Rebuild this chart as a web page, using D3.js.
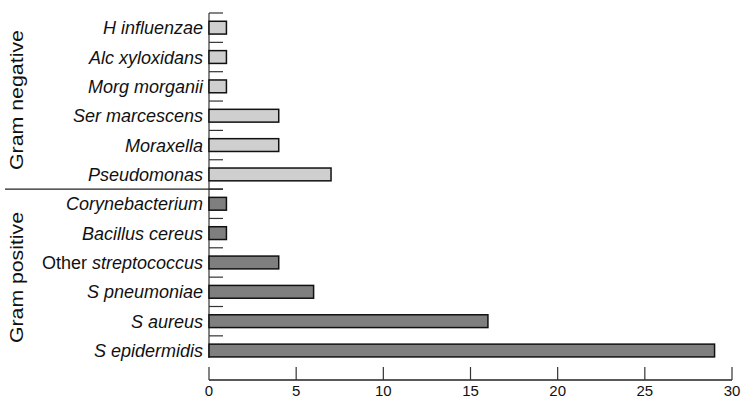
<!DOCTYPE html>
<html>
<head>
<meta charset="utf-8">
<script src="https://cdn.jsdelivr.net/npm/d3@7"></script>
<style>
  body { margin: 0; background: #fff; }
  svg { display: block; font-family: "Liberation Sans", Arial, sans-serif; }
</style>
</head>
<body>
<svg width="743" height="400"></svg>
<script>
// organisms, top to bottom
var organisms = ["H influenzae", "Alc xyloxidans", "Morg morganii", "Ser marcescens", "Moraxella", "Pseudomonas",
    "Corynebacterium", "Bacillus cereus", "Other streptococcus", "S pneumoniae", "S aureus", "S epidermidis"];
var counts = [1, 1, 1, 4, 4, 7, 1, 1, 4, 6, 16, 29];
var gramGroup = ["neg", "neg", "neg", "neg", "neg", "neg", "pos", "pos", "pos", "pos", "pos", "pos"];
var groupNames = ["Gram negative", "Gram positive"];
var xTicks = [0, 5, 10, 15, 20, 25, 30];

var svg = d3.select('svg');

var scaleX = d3.scaleLinear().domain([0, 30]).range([209, 732]);
var scaleY = d3.scaleBand().domain(organisms).range([13, 365.2]).paddingInner(0).paddingOuter(0);

var barH = 12.8;

// x axis, ticks pointing up
svg.append('line')
    .attr('x1', scaleX(0)).attr('x2', scaleX(30))
    .attr('y1', 380).attr('y2', 380)
    .attr('stroke', '#222').attr('stroke-width', 1.3);

svg.selectAll('.xtick')
    .data(xTicks)
    .enter()
    .append('line')
    .attr('class', 'xtick')
    .attr('x1', function(d) { return scaleX(d); })
    .attr('x2', function(d) { return scaleX(d); })
    .attr('y1', 367).attr('y2', 380)
    .attr('stroke', '#333').attr('stroke-width', 1.2);

svg.selectAll('.xlabel')
    .data(xTicks)
    .enter()
    .append('text')
    .attr('class', 'xlabel')
    .attr('x', function(d) { return scaleX(d); })
    .attr('y', 396)
    .style('text-anchor', 'middle')
    .attr('font-size', 15)
    .attr('fill', '#111')
    .text(function(d) { return d; });

// y axis line and separator ticks
svg.append('line')
    .attr('x1', scaleX(0)).attr('x2', scaleX(0))
    .attr('y1', 13).attr('y2', 358)
    .attr('stroke', '#333').attr('stroke-width', 1.2);

svg.selectAll('.ytick')
    .data(organisms)
    .enter()
    .append('line')
    .attr('class', 'ytick')
    .attr('x1', scaleX(0)).attr('x2', scaleX(0) + 14)
    .attr('y1', function(d) { return scaleY(d); })
    .attr('y2', function(d) { return scaleY(d); })
    .attr('stroke', '#333').attr('stroke-width', 1.2);

// divider between the two groups
svg.append('line')
    .attr('x1', 5).attr('x2', scaleX(0) + 14)
    .attr('y1', scaleY(organisms[6])).attr('y2', scaleY(organisms[6]))
    .attr('stroke', '#222').attr('stroke-width', 1.2);

// bars
svg.selectAll('.bar')
    .data(organisms)
    .enter()
    .append('rect')
    .attr('class', 'bar')
    .attr('x', scaleX(0))
    .attr('y', function(d) { return scaleY(d) + scaleY.bandwidth() / 2 - barH / 2; })
    .attr('width', function(d, i) { return scaleX(counts[i]) - scaleX(0); })
    .attr('height', barH)
    .attr('fill', function(d, i) { return gramGroup[i] == 'neg' ? '#cfcfcf' : '#7f7f7f'; })
    .attr('stroke', '#111')
    .attr('stroke-width', 1.5);

// category labels (italic species names, "Other" upright)
var labels = svg.selectAll('.ylabel')
    .data(organisms)
    .enter()
    .append('text')
    .attr('class', 'ylabel')
    .attr('x', 203)
    .attr('y', function(d) { return scaleY(d) + scaleY.bandwidth() / 2; })
    .attr('dy', '0.36em')
    .style('text-anchor', 'end')
    .attr('font-size', 18)
    .attr('fill', '#111');

labels.each(function(d) {
    var t = d3.select(this);
    if (d.indexOf('Other ') == 0) {
        t.append('tspan').text('Other ');
        t.append('tspan').attr('font-style', 'italic').text(d.slice(6));
    } else {
        t.append('tspan').attr('font-style', 'italic').text(d);
    }
});

// group labels, rotated
svg.append('text')
    .text(groupNames[0])
    .attr('transform', 'translate(23,' + ((scaleY(organisms[0]) + scaleY(organisms[6])) / 2 - 1) + ')rotate(-90)')
    .style('text-anchor', 'middle')
    .attr('font-size', 18)
    .attr('textLength', 140)
    .attr('lengthAdjust', 'spacingAndGlyphs')
    .attr('fill', '#111');

svg.append('text')
    .text(groupNames[1])
    .attr('transform', 'translate(23,277.5)rotate(-90)')
    .style('text-anchor', 'middle')
    .attr('font-size', 18)
    .attr('textLength', 131)
    .attr('lengthAdjust', 'spacingAndGlyphs')
    .attr('fill', '#111');
</script>
</body>
</html>
